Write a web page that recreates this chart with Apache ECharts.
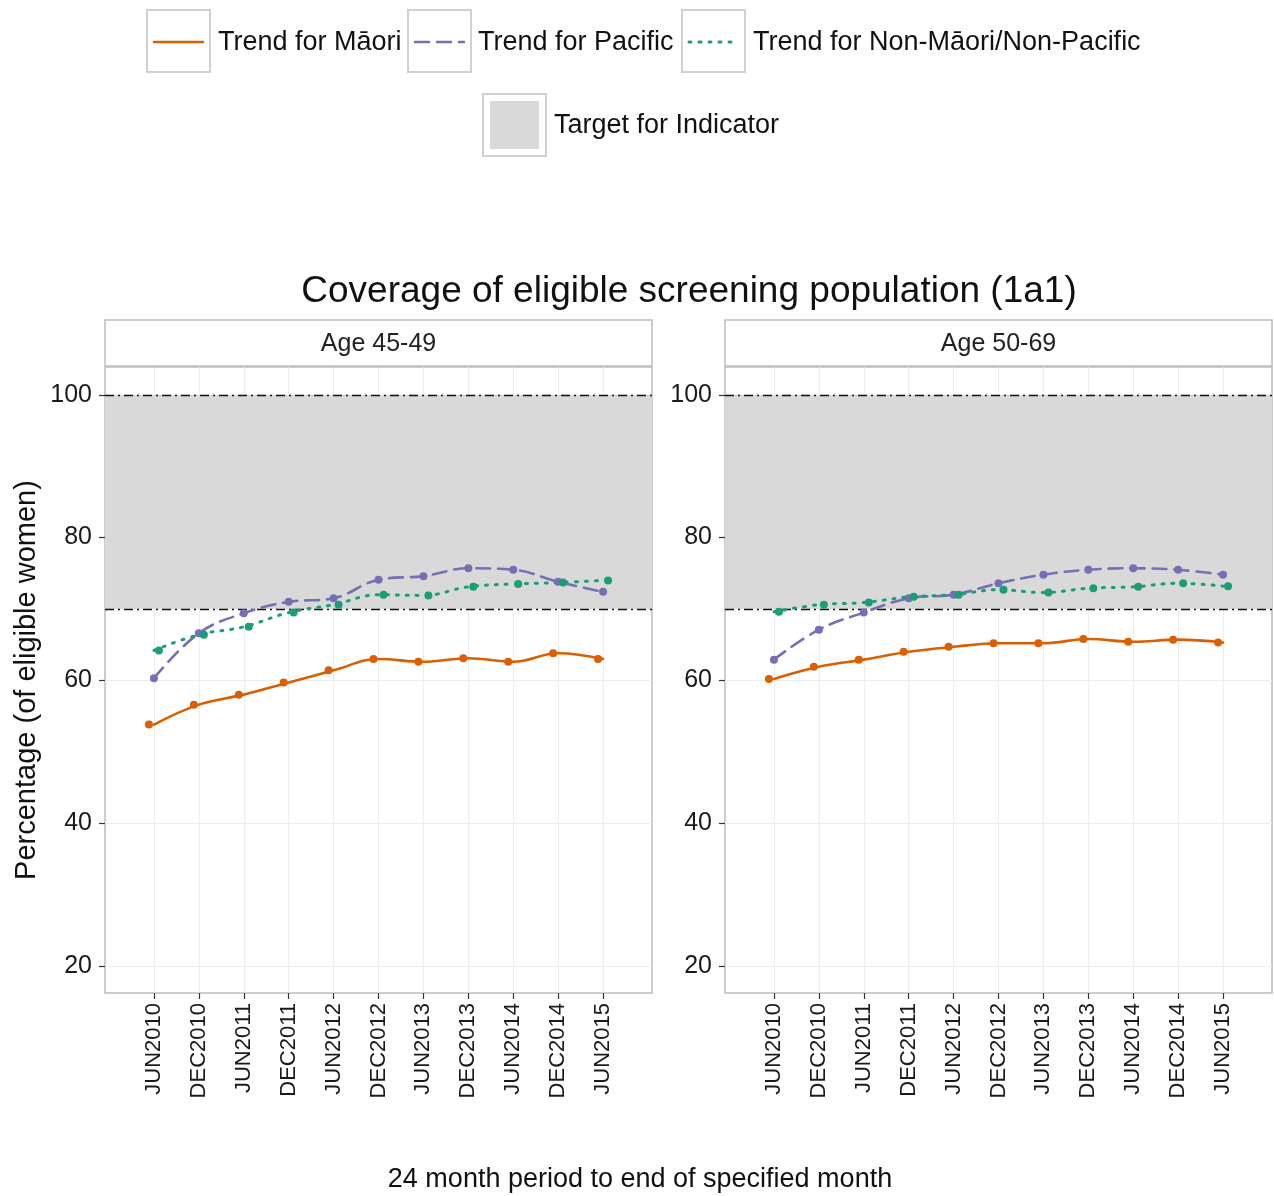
<!DOCTYPE html>
<html><head><meta charset="utf-8">
<script src="https://cdn.jsdelivr.net/npm/echarts@6/dist/echarts.min.js"></script>
<style>html,body{margin:0;padding:0;background:#fff}#c{width:1274px;height:1196px}</style>
</head><body><div id="c"></div>
<script>
// ---- data ----
const periods = ['JUN2010','DEC2010','JUN2011','DEC2011','JUN2012','DEC2012','JUN2013','DEC2013','JUN2014','DEC2014','JUN2015'];
const panelNames = ['Age 45-49','Age 50-69'];
const maori45 = [53.8,56.6,58.0,59.7,61.4,63.0,62.6,63.1,62.6,63.8,63.0];
const pacific45 = [60.3,66.6,69.4,71.0,71.5,74.1,74.6,75.7,75.5,73.8,72.4];
const nonMP45 = [64.2,66.4,67.5,69.5,70.6,72.0,71.9,73.1,73.5,73.7,74.0];
const maori50 = [60.2,61.9,62.9,64.0,64.7,65.2,65.2,65.8,65.4,65.7,65.3];
const pacific50 = [62.9,67.1,69.5,71.5,72.0,73.6,74.8,75.5,75.7,75.5,74.8];
const nonMP50 = [69.6,70.6,70.9,71.7,72.0,72.7,72.3,72.9,73.1,73.6,73.2];
const yTicks = [20,40,60,80,100];
const targetLow = 70, targetHigh = 100;
const seriesNames = ['Trend for Māori','Trend for Pacific','Trend for Non-Māori/Non-Pacific'];

// ---- styling ----
const FONT = '"Liberation Sans", Arial, sans-serif';
const colors = ['#D95F02','#7570B3','#1B9E77'];
const lineTypes = ['solid',[14,8],[2,8]];
const offsets = [[-5,0],[0,0],[5,0]];
const gridLefts = [105,725];
const GT = 367, GW = 547, GH = 626;
const xIdx = periods.map((_,i)=>i);

const chart = echarts.init(document.getElementById('c'));
const grids = [], xAxes = [], yAxes = [], series = [];
const panelData = [[maori45,pacific45,nonMP45],[maori50,pacific50,nonMP50]];

gridLefts.forEach((L,g)=>{
  grids.push({left:L, top:GT, width:GW, height:GH, show:true, borderColor:'#BDBDBD', borderWidth:1.5, backgroundColor:'transparent'});
  xAxes.push({type:'value', gridIndex:g, min:-1.09, max:11.09,
    axisLine:{show:false, onZero:false},
    axisTick:{show:true, customValues:xIdx, length:6, lineStyle:{color:'#333', width:1.2}},
    axisLabel:{customValues:xIdx, rotate:90, formatter:v=>periods[Math.round(v)]||'', fontSize:22, color:'#1a1a1a', fontFamily:FONT, margin:10},
    splitLine:{show:true, lineStyle:{color:'#EDEDED', width:1}}
  });
  yAxes.push({type:'value', gridIndex:g, min:16.2, max:103.9,
    axisLine:{show:false, onZero:false},
    axisTick:{show:true, customValues:yTicks, length:6, lineStyle:{color:'#333', width:1.2}},
    axisLabel:{customValues:yTicks, fontSize:25, color:'#1a1a1a', fontFamily:FONT, margin:13},
    splitLine:{show:true, lineStyle:{color:'#EDEDED', width:1}},
    name: g===0 ? 'Percentage (of eligible women)' : '',
    nameLocation:'middle', nameGap:64, nameRotate:90,
    nameTextStyle:{fontSize:29, color:'#111', fontFamily:FONT}
  });
  panelData[g].forEach((arr,s)=>{
    const ser = {
      type:'line', name:seriesNames[s], xAxisIndex:g, yAxisIndex:g,
      data: arr.map((v,i)=>[i,v]),
      smooth:0.4, symbol:'circle', symbolSize:8, symbolOffset:offsets[s], showSymbol:true,
      itemStyle:{color:colors[s]},
      lineStyle:{color:colors[s], width: s===2?3:2.6, type:lineTypes[s], cap:'round'},
      z:5, silent:true
    };
    if (s===0) {
      ser.markArea = {silent:true, itemStyle:{color:'#D9D9D9'}, data:[[{yAxis:targetLow},{yAxis:targetHigh}]], z:1};
      ser.markLine = {silent:true, symbol:'none', label:{show:false},
        lineStyle:{color:'#111', type:[9,4,2,4], width:1.4},
        data:[{yAxis:targetLow},{yAxis:targetHigh}]};
    }
    series.push(ser);
  });
});

const graphic = [];
// title
graphic.push({type:'text', x:689, y:292, style:{text:'Coverage of eligible screening population (1a1)', font:'37px '+FONT, fill:'#111', align:'center', verticalAlign:'middle'}});
// strips
gridLefts.forEach((L,g)=>{
  graphic.push({type:'rect', shape:{x:L, y:320, width:GW, height:46}, style:{fill:'#fff', stroke:'#BDBDBD', lineWidth:1.5}});
  graphic.push({type:'text', x:L+GW/2, y:344, style:{text:panelNames[g], font:'25px '+FONT, fill:'#222', align:'center', verticalAlign:'middle'}});
});
// x-axis title
graphic.push({type:'text', x:640, y:1180, style:{text:'24 month period to end of specified month', font:'27px '+FONT, fill:'#111', align:'center', verticalAlign:'middle'}});
// legend
const legKeys = [147,408,682];
const legTexts = [218,478,753];
legKeys.forEach((x,i)=>{
  graphic.push({type:'rect', shape:{x:x, y:10, width:63, height:62}, style:{fill:'#fff', stroke:'#D0D0D0', lineWidth:2}});
  graphic.push({type:'line', shape:{x1:x+7, y1:42, x2:x+56, y2:42}, style:{stroke:colors[i], lineWidth:i===2?3:2.6, lineDash:i===0?null:lineTypes[i], lineCap:'round'}});
  graphic.push({type:'text', x:legTexts[i], y:43, style:{text:seriesNames[i], font:'27px '+FONT, fill:'#111', verticalAlign:'middle'}});
});
graphic.push({type:'rect', shape:{x:483, y:94, width:63, height:62}, style:{fill:'#fff', stroke:'#D0D0D0', lineWidth:2}});
graphic.push({type:'rect', shape:{x:490, y:101, width:49, height:48}, style:{fill:'#D9D9D9'}});
graphic.push({type:'text', x:554, y:126, style:{text:'Target for Indicator', font:'27px '+FONT, fill:'#111', verticalAlign:'middle'}});

chart.setOption({
  animation:false,
  backgroundColor:'#fff',
  textStyle:{fontFamily:FONT},
  grid:grids, xAxis:xAxes, yAxis:yAxes, series:series, graphic:graphic
});
</script></body></html>
